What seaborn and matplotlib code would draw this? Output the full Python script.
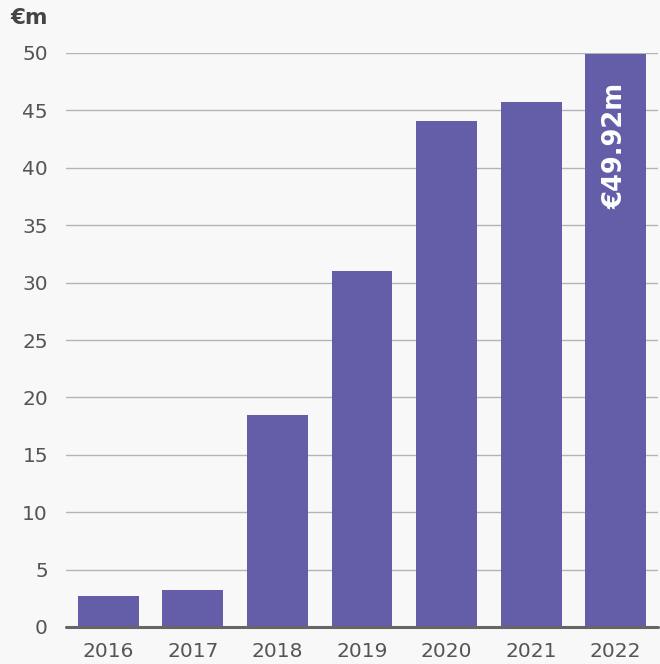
import matplotlib
matplotlib.use("Agg")
import matplotlib.pyplot as plt
import seaborn as sns
import pandas as pd

years = ["2016", "2017", "2018", "2019", "2020", "2021", "2022"]
revenue_m = [2.7, 3.2, 18.5, 31.0, 44.1, 45.7, 49.92]
y_ticks = [0, 5, 10, 15, 20, 25, 30, 35, 40, 45, 50]
unit_label = "€m"
highlight_label = "€49.92m"

bar_color = "#645ea8"
bg = "#f8f8f8"

sns.set_theme(style="white")
plt.rcParams["font.family"] = ["DejaVu Sans"]

df = pd.DataFrame({"year": years, "value": revenue_m})

fig = plt.figure(figsize=(6.6, 6.64), dpi=100, facecolor=bg)
ax = fig.add_axes([0.1, 1 - 627 / 664, 0.897, (627 - 53) / 664])
ax.set_facecolor(bg)

sns.barplot(data=df, x="year", y="value", color=bar_color, saturation=1,
            width=0.72, linewidth=0, ax=ax, zorder=3)

ax.set_xlim(-0.5, 6.5)
ax.set_ylim(0, 50)
ax.set_yticks(y_ticks)
ax.set_yticklabels([str(t) for t in y_ticks])
for t in y_ticks[1:]:
    ax.axhline(t, color="#b4b4b4", lw=1.0, zorder=1)
ax.axhline(0, color="#666666", lw=2.2, zorder=4, clip_on=False)

for s in ax.spines.values():
    s.set_visible(False)
for p in ax.patches:
    p.set_clip_on(False)

ax.set_xlabel("")
ax.set_ylabel("")
ax.tick_params(axis="y", length=0, pad=13, labelsize=14.5, labelcolor="#555555")
ax.tick_params(axis="x", length=0, pad=11, labelsize=14.5, labelcolor="#555555")

ax.text(6, 47.4, highlight_label, rotation=90, ha="center", va="top",
        color="white", fontsize=18.5, fontweight="bold", zorder=5)

fig.text(10 / 660, 1 - 18 / 664, unit_label, ha="left", va="center",
         fontsize=15.5, fontweight="bold", color="#444444")

fig.savefig("out.png", dpi=100, facecolor=bg)
